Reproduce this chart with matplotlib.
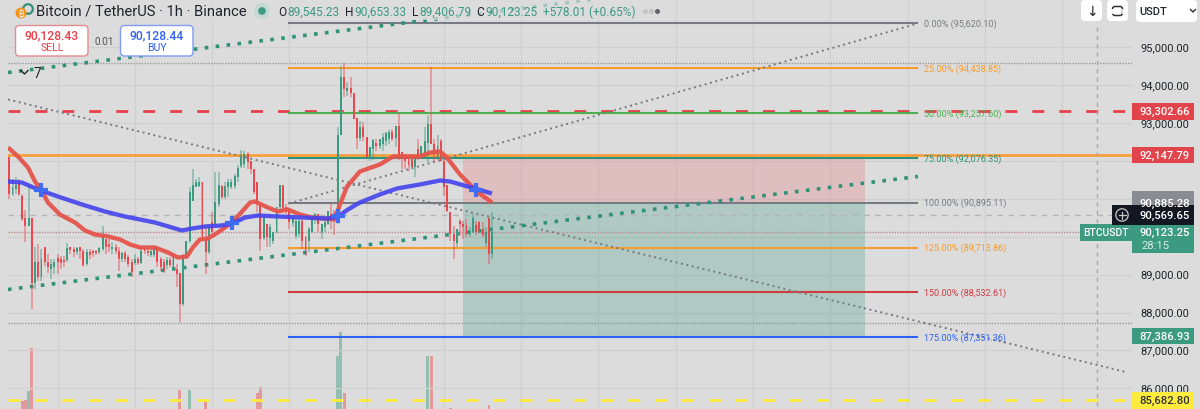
import matplotlib
matplotlib.use("Agg")
import matplotlib.pyplot as plt
from matplotlib.patches import Circle, FancyBboxPatch, Rectangle
from matplotlib.transforms import blended_transform_factory

plt.rcParams["font.family"] = ["Roboto", "DejaVu Sans"]

BG = "#dcdcdc"
RED = "#e8484e"
GREEN = "#3c9a80"
TEAL = "#2f9179"

# hourly candles, oldest first
opens = [
    92087, 91112, 91244, 91428, 91085, 90480, 90270, 90505, 88790, 89345,
    88925, 89740, 89320, 89135, 89190, 89425, 89398, 89372, 89372, 89715,
    89662, 89583, 89715, 89610, 89267, 89583, 89610, 89610, 89583, 89662,
    89926, 89794, 89662, 89715, 89610, 89398, 89557, 89451, 89320, 89293,
    89398, 89293, 89715, 89610, 89504, 89504, 89662, 89398, 89345, 89240,
    89372, 89135, 89135, 89055, 88212, 89451, 89873, 90927, 91296, 91323,
    91454, 89952, 89583, 90374, 90321, 90848, 91323, 91033, 91296, 91296,
    91323, 91560, 91850, 91903, 92166, 91982, 91771, 91454, 90848, 89952,
    90321, 89952, 89873, 90110, 90769, 91349, 90769, 90638, 90347, 90005,
    90057, 90400, 89978, 89873, 90136, 90505, 90585, 90110, 90242, 90321,
    90585, 90638, 90400, 92693, 94196, 93827, 93932, 93800, 93115, 92614,
    92878, 92640, 92087, 92298, 92456, 92377, 92430, 92509, 92562, 92772,
    92588, 92904, 92219, 92113, 92087, 92087, 91824, 92298, 92113, 92113,
    92482, 92957, 92430, 92113, 92509, 91982, 91375, 90638, 90057, 89846,
    90426, 90321, 90295, 90057, 90136, 90295, 90374, 90189, 89846, 90480,
    89545.23,
]
highs = [
    92087, 91507, 91560, 91507, 91112, 90716, 91375, 90505, 89740, 89794,
    89662, 89740, 89530, 89398, 89398, 89530, 89478, 89478, 89820, 89740,
    89715, 89740, 89740, 89662, 89662, 89662, 89636, 89636, 89740, 90268,
    89926, 89926, 89847, 89794, 89740, 89583, 89610, 89504, 89398, 89530,
    89451, 89715, 89740, 89662, 89662, 89740, 89715, 89451, 89398, 89451,
    89451, 89530, 89267, 89055, 89530, 89873, 91296, 91771, 91507, 91560,
    91454, 90242, 90321, 90638, 91692, 91692, 91375, 91454, 91507, 91507,
    91639, 91876, 92272, 92245, 92219, 91982, 91771, 91454, 90848, 90505,
    90321, 90321, 90136, 90795, 91375, 91375, 90848, 90716, 90558, 90453,
    90453, 90453, 90005, 90242, 90505, 90611, 90585, 90321, 90400, 90664,
    90848, 90716, 92878, 94486, 94565, 94064, 94222, 93800, 93115, 93036,
    93010, 92640, 92351, 92562, 92562, 92562, 92720, 92772, 92799, 92825,
    92904, 93247, 92219, 92166, 92140, 92087, 92087, 92562, 92403, 92878,
    93220, 94460, 92562, 92667, 92562, 92034, 91375, 90638, 90268, 90189,
    90453, 90400, 90453, 90242, 90585, 90400, 90400, 90374, 90242, 90480,
    90653.33,
]
lows = [
    90980, 91085, 91112, 91085, 90400, 89870, 90270, 88080, 88610, 88820,
    88820, 89215, 89055, 88871, 89003, 89003, 89135, 89188, 89345, 89530,
    89451, 89504, 89398, 89188, 89215, 89398, 89451, 89504, 89530, 89610,
    89530, 89583, 89530, 89530, 89082, 89320, 89320, 89188, 88924, 89240,
    89240, 89267, 89530, 89478, 89451, 89451, 89188, 89082, 89029, 89135,
    89188, 89082, 88660, 87738, 88160, 89398, 89846, 90927, 91296, 91296,
    89926, 89003, 89530, 90110, 90268, 90795, 90980, 90980, 91033, 91244,
    91244, 91454, 91823, 91823, 91771, 91639, 91112, 90638, 89610, 89900,
    89715, 89715, 89794, 90084, 90716, 90716, 90585, 90189, 90242, 89926,
    89978, 89662, 89478, 89583, 90084, 90321, 90110, 89926, 90110, 90295,
    90189, 90031, 90321, 92693, 93669, 93695, 93669, 93089, 92298, 92509,
    92509, 92061, 91982, 92034, 92245, 92298, 92245, 92403, 92430, 92509,
    92351, 92008, 91771, 91771, 91718, 91824, 91560, 92034, 92087, 92087,
    91955, 92430, 91955, 92034, 91982, 91059, 90638, 89873, 89398, 89715,
    90005, 89926, 89978, 89978, 90084, 90031, 90136, 89978, 89715, 89267,
    89406.79,
]
closes = [
    91112, 91296, 91375, 91112, 90453, 90270, 90480, 88790, 89345, 88925,
    89398, 89320, 89190, 89267, 89345, 89345, 89293, 89320, 89688, 89636,
    89583, 89688, 89610, 89240, 89583, 89504, 89557, 89557, 89688, 90031,
    89740, 89715, 89740, 89610, 89398, 89557, 89398, 89267, 89056, 89398,
    89293, 89610, 89610, 89557, 89610, 89688, 89345, 89188, 89082, 89372,
    89240, 89478, 89003, 88212, 89451, 89873, 91190, 91349, 91454, 91454,
    89978, 89583, 90242, 90136, 90901, 91375, 91033, 91323, 91428, 91428,
    91586, 91823, 92113, 92166, 91955, 91771, 91165, 90848, 89926, 90505,
    89978, 90242, 90110, 90795, 91349, 90743, 90664, 90374, 90505, 90400,
    90426, 89873, 89583, 90189, 90505, 90585, 90321, 90321, 90374, 90664,
    90400, 90400, 92693, 94196, 93880, 93932, 93774, 93089, 92614, 92878,
    92640, 92087, 92351, 92535, 92377, 92562, 92640, 92720, 92772, 92562,
    92904, 92166, 92061, 91982, 91876, 91824, 92087, 92087, 92377, 92509,
    92983, 92430, 92166, 92377, 91982, 91296, 90664, 90057, 89873, 90189,
    90321, 90242, 90057, 90136, 90505, 90110, 90189, 90031, 90110, 89530,
    90123.25,
]

# only the volume bars that reach into view
vol_bars = [4, 5, 6, 7, 53, 56, 61, 77, 78, 102, 103, 104, 130, 131, 137, 149]
vol_values = [8, 9, 18, 61, 19, 19, 7, 16, 22, 53, 77, 16, 53, 53, 1, 4]

red_ma_bars = [
    -0.4, 2.7, 5.8, 8, 10.2, 12, 15.7, 20.4, 23.5, 26.6, 30.7, 34.4, 37.5, 40.6, 45.2,
    49.3, 52.4, 55.2, 57, 59.2, 61.7, 64.8, 69.2, 72.3, 74.8, 76.3, 80.3, 83.4, 86.5,
    90.3, 94, 101.1, 102.7, 104.9, 108.9, 115.1, 119.2, 127.5, 130.6, 133.8, 135.9,
    140, 145.2, 149.9,
]
red_ma = [
    92351, 92113, 91824, 91454, 91191, 90901, 90585, 90374, 90163, 90057, 90005, 89926,
    89794, 89715, 89715, 89583, 89451, 89478, 89715, 89926, 89952, 90110, 90374, 90664,
    90901, 90927, 90769, 90664, 90716, 90585, 90505, 90453, 90848, 91323, 91718, 91903,
    92113, 92113, 92219, 92245, 92087, 91639, 91191, 90901,
]
blue_ma_bars = [
    -0.4, 3.9, 8.9, 15.1, 22.6, 29.7, 35.9, 45.2, 53.6, 56.7, 60.8, 66.1, 69.2, 73.2,
    77.2, 83.4, 90.9, 99, 102.1, 105.2, 108.9, 115.1, 120.4, 127.5, 133.8, 136.9,
    144.6, 149.9,
]
blue_ma = [
    91454, 91428, 91244, 91059, 90848, 90664, 90532, 90374, 90163, 90215, 90268, 90295,
    90347, 90505, 90558, 90532, 90505, 90479, 90532, 90716, 90901, 91112, 91270, 91375,
    91481, 91454, 91270, 91138,
]
cross_bars = [9.9, 69.2, 102.1, 144.9]
cross_prices = [91217, 90347, 90532, 91243]

fib_pct = ["0.00%", "25.00%", "50.00%", "75.00%", "100.00%", "125.00%", "150.00%", "175.00%"]
fib_prices = [95620.10, 94438.85, 93257.60, 92076.35, 90895.11, 89713.86, 88532.61, 87351.36]
fib_colors = ["#787b86", "#f59c2e", "#4caf50", "#2f9179", "#787b86", "#f59c2e", "#cf3c42", "#2f62f5"]
fib_bars = [86.9, 282.0]

box_bars = [140.9, 265.7]
stop_price = 92147.79
entry_price = 90885.28
target_price = 87386.93
resist_price = 93302.66
floor_price = 85682.80
last_price = 90123.25
cursor_price = 90569.65
range_high = 94565
range_low = 87725

channel_up_bars = [-0.4, 195.9]
channel_up = [94328, 96410]
channel_lo_bars = [-0.4, 282.2]
channel_lo = [88608, 91586]
fall_bars = [-0.4, 347.4]
fall = [93616, 86420]
rise_bars = [86.9, 282.2]
rise = [90875, 95620]

price_ticks = [86000, 87000, 88000, 89000, 90000, 91000, 92000, 93000, 94000, 95000]
# 90,000 and 92,000 sit fully behind the price tags, so they get no text
label_ticks = [86000, 87000, 88000, 89000, 91000, 93000, 94000, 95000]
day_ticks = list(range(15, 348, 24))

W, H = 1200, 410
fig = plt.figure(figsize=(W / 100, H / 100), dpi=100, facecolor=BG)

# price pane runs from x=8 to x=1132 and over the full height
ax = fig.add_axes([8 / W, 0, 1124 / W, 1])
ax.set_facecolor(BG)
ax.set_xlim(-0.4, 348.7)
ax.set_ylim(85457, 96265)
ax.set_xticks(day_ticks)
ax.set_yticks(price_ticks)
ax.grid(True, color="#d0d0d0", lw=0.9)
ax.set_axisbelow(True)
ax.tick_params(length=0, labelbottom=False, labelleft=False)
for s in ax.spines.values():
    s.set_visible(False)

vol = ax.twinx()
vol.set_ylim(0, 410)
vol.axis("off")
vol.set_zorder(ax.get_zorder() - 1)
ax.patch.set_visible(False)
vol_colors = [GREEN if closes[i] >= opens[i] else RED for i in vol_bars]
vol.bar(vol_bars, vol_values, width=0.9, color=vol_colors, alpha=0.45)

ax.add_patch(Rectangle((box_bars[0], entry_price), box_bars[1] - box_bars[0], stop_price - entry_price,
                       color="#e8484e", alpha=0.2, lw=0, zorder=2))
ax.add_patch(Rectangle((box_bars[0], target_price), box_bars[1] - box_bars[0], entry_price - target_price,
                       color="#2f9179", alpha=0.25, lw=0, zorder=2))

# dashed and dotted price levels
ax.axhline(range_high, color="#9a9a9a", lw=1, ls=(0, (1, 1)), zorder=3)
ax.axhline(range_low, color="#9a9a9a", lw=1, ls=(0, (1, 1)), zorder=3)
ax.axhline(last_price, color="#c08a8a", lw=1, ls=(0, (1, 1)), zorder=3)
ax.axhline(cursor_price, color="#b4b4b4", lw=1, ls=(0, (4, 4)), zorder=3)
ax.axhline(stop_price, color="#f5a03c", lw=2, zorder=3)
ax.plot([-0.4, 347.4], [resist_price, resist_price], color="#e8404a", lw=2, ls=(0, (4.3, 5.4)), zorder=3)
ax.plot([-0.4, 347.4], [floor_price, floor_price], color="#ffeb3b", lw=2, ls=(0, (4.3, 5.4)), zorder=3)

for p, c in zip(fib_prices, fib_colors):
    ax.plot(fib_bars, [p, p], color=c, lw=1.5, zorder=3)

ax.plot(channel_up_bars, channel_up, color=TEAL, lw=2.6, ls=(0, (1, 2.05)), zorder=4)
ax.plot(channel_lo_bars, channel_lo, color=TEAL, lw=2.6, ls=(0, (1, 2.05)), zorder=4)
ax.plot(fall_bars, fall, color="#77797f", lw=1.4, ls=(0, (1, 1.85)), zorder=4)
ax.plot(rise_bars, rise, color="#77797f", lw=1.4, ls=(0, (1, 1.85)), zorder=4)

bars = list(range(len(opens)))
candle_colors = [GREEN if c >= o else RED for o, c in zip(opens, closes)]
ax.vlines(bars, lows, highs, colors=candle_colors, lw=1.1, alpha=0.55, zorder=5)
ax.bar(bars, [abs(c - o) for o, c in zip(opens, closes)], bottom=[min(o, c) for o, c in zip(opens, closes)],
       width=0.6, color=candle_colors, zorder=6)

ax.plot(red_ma_bars, red_ma, color="#e5544c", lw=3.1, alpha=0.95, zorder=7, solid_capstyle="butt")
ax.plot(blue_ma_bars, blue_ma, color="#4444ee", lw=3.1, alpha=0.9, zorder=8, solid_capstyle="butt")
ax.plot(cross_bars, cross_prices, "+", color="#3f6cf0", ms=10, mew=3, zorder=9)

# overlay in pixels for the TradingView furniture
ov = fig.add_axes([0, 0, 1, 1], zorder=10)
ov.set_xlim(0, W)
ov.set_ylim(H, 0)
ov.axis("off")
price_tr = blended_transform_factory(ov.transData, ax.transData)


def tag(price, text, face, color="white", top=1132, bottom=1194, height=16.5):
    h = height * (ax.get_ylim()[1] - ax.get_ylim()[0]) / H
    ov.add_patch(FancyBboxPatch((top, price - h / 2), bottom - top, h, transform=price_tr,
                                boxstyle="square,pad=0", fc=face, ec="none", zorder=3))
    ov.text(1165, price, text, transform=price_tr, color=color, ha="center", va="center",
            fontsize=8.1, fontweight="medium", zorder=4)


def round_box(x0, y0, x1, y1, fc="white", ec="none", lw=1.0, r=4):
    ov.add_patch(FancyBboxPatch((x0, y0), x1 - x0, y1 - y0, boxstyle=f"round,pad=0,rounding_size={r}",
                                fc=fc, ec=ec, lw=lw, zorder=2))


# price scale
ov.plot([1097, 1097], [28, 410], color="#a8a8a8", lw=1, ls=(0, (3, 3)))
for p in label_ticks:
    ov.text(1140.5, p, f"{p:,.2f}", transform=price_tr, fontsize=8.0, color="#20232b", va="center", zorder=1)
tag(entry_price, "90,885.28", "#8a8c93", height=24)
tag(resist_price, "93,302.66", "#e2444c")
tag(stop_price, "92,147.79", "#e2444c")
tag(cursor_price, "90,569.65", "#131722", height=21)
tag(target_price, "87,386.93", GREEN)
tag(floor_price, "85,682.80", "#ffeb3b", color="#30323a")

ov.add_patch(Rectangle((1132, 226), 62, 28, fc=GREEN, ec="none", zorder=3))
ov.text(1165, 233, "90,123.25", color="white", ha="center", va="center", fontsize=8.1, fontweight="medium", zorder=4)
ov.text(1141, 246, "28:15", color="#d8eee8", ha="left", va="center", fontsize=8.1, zorder=4)
ov.add_patch(Rectangle((1080, 225), 53, 17, fc=GREEN, ec="none", zorder=3))
ov.text(1106, 233.5, "BTCUSDT", color="white", ha="center", va="center", fontsize=7.5, fontweight="medium", zorder=4)
ov.add_patch(Rectangle((1112, 206), 21, 20, fc="#131722", ec="none", zorder=3))
ov.add_patch(Circle((1122, 216), 6.2, fc="none", ec="#c8c8c8", lw=0.9, zorder=4))
ov.plot([1118.5, 1125.5], [216, 216], color="#c8c8c8", lw=0.9, zorder=4)
ov.plot([1122, 1122], [212.5, 219.5], color="#c8c8c8", lw=0.9, zorder=4)

# fib labels
for pct, p, c in zip(fib_pct, fib_prices, fib_colors):
    ov.text(924, p, f"{pct} ({p:,.2f})", transform=price_tr, color=c, fontsize=6.5, va="center", zorder=1)

# top right buttons
round_box(1081, 1, 1102, 22)
round_box(1107, 1, 1128, 22)
round_box(1136, 1, 1197, 23)
ov.text(1091.5, 12, "↓", fontsize=10, ha="center", va="center", color="#20232b", family="DejaVu Sans", zorder=4)
ov.add_patch(FancyBboxPatch((1112.5, 7.5), 10, 9, boxstyle="round,pad=0,rounding_size=2.5", fc="none",
                            ec="#30323a", lw=1.1, zorder=3))
ov.plot([1112, 1112], [11, 13], color="white", lw=2, zorder=4)
ov.plot([1123, 1123], [11, 13], color="white", lw=2, zorder=4)
ov.text(1139, 12, "USDT", fontsize=8, va="center", color="#20232b", fontweight="medium", zorder=4)
ov.plot([1190.5, 1193, 1195.5], [10.5, 13, 10.5], color="#30323a", lw=1, zorder=4)

# symbol header
ov.add_patch(Rectangle((8, 0), 660, 21, fc=BG, ec="none", alpha=0.7, zorder=1))
ov.add_patch(Circle((28, 10), 4.8, fc="none", ec="#2f9179", lw=1.6, zorder=3))
ov.add_patch(Circle((21, 14), 5.5, fc="#f7931a", ec="none", zorder=4))
ov.text(21, 14.3, "₿", fontsize=6, color="white", ha="center", va="center",
        family=["Inter", "Noto Sans", "Open Sans", "Lato", "Roboto", "DejaVu Sans"], zorder=5)
ov.text(36, 12, "Bitcoin / TetherUS · 1h · Binance", fontsize=10.6, color="#20232b", va="center", zorder=4)
ov.add_patch(Circle((262, 12), 8, fc="#c6d8d3", ec="none", zorder=3))
ov.add_patch(Circle((262, 12), 3.8, fc=GREEN, ec="none", zorder=4))
for x, letter, value in [(278, "O", "89,545.23"), (345, "H", "90,653.33"), (412, "L", "89,406.79"), (476, "C", "90,123.25")]:
    ov.text(x, 12, letter, fontsize=8.6, color="#20232b", va="center", zorder=4)
    ov.text(x + (9 if letter != "L" else 7), 12, value, fontsize=8.6, color=GREEN, va="center", zorder=4)
ov.text(543, 12, "+578.01 (+0.65%)", fontsize=8.6, color=GREEN, va="center", zorder=4)
ov.plot([645, 651], [12, 12], "o", color="#c4c4c4", ms=2.6, zorder=4)
ov.plot([657], [12], "o", color="#606268", ms=2.6, zorder=4)

# order buttons
round_box(15.5, 26.5, 88, 57, ec="#e58b90", lw=1)
round_box(120.5, 26.5, 193, 57, ec="#7f9bf5", lw=1)
ov.text(52, 35.5, "90,128.43", color="#e8404a", fontsize=8.7, ha="center", va="center", fontweight="medium", zorder=4)
ov.text(52, 48, "SELL", color="#e8404a", fontsize=7.6, ha="center", va="center", zorder=4)
ov.text(156.5, 35.5, "90,128.44", color="#2f62f5", fontsize=8.7, ha="center", va="center", fontweight="medium", zorder=4)
ov.text(156.5, 48, "BUY", color="#2f62f5", fontsize=7.6, ha="center", va="center", zorder=4)
ov.text(104, 42, "0.01", color="#50525a", fontsize=7.2, ha="center", va="center", zorder=4)
ov.plot([21, 24.5, 28], [71.5, 75, 71.5], color="#20232b", lw=1, zorder=4)
ov.text(33, 73.5, "7", color="#20232b", fontsize=9.8, va="center", zorder=4)

fig.savefig("out.png", dpi=100, facecolor=BG)
